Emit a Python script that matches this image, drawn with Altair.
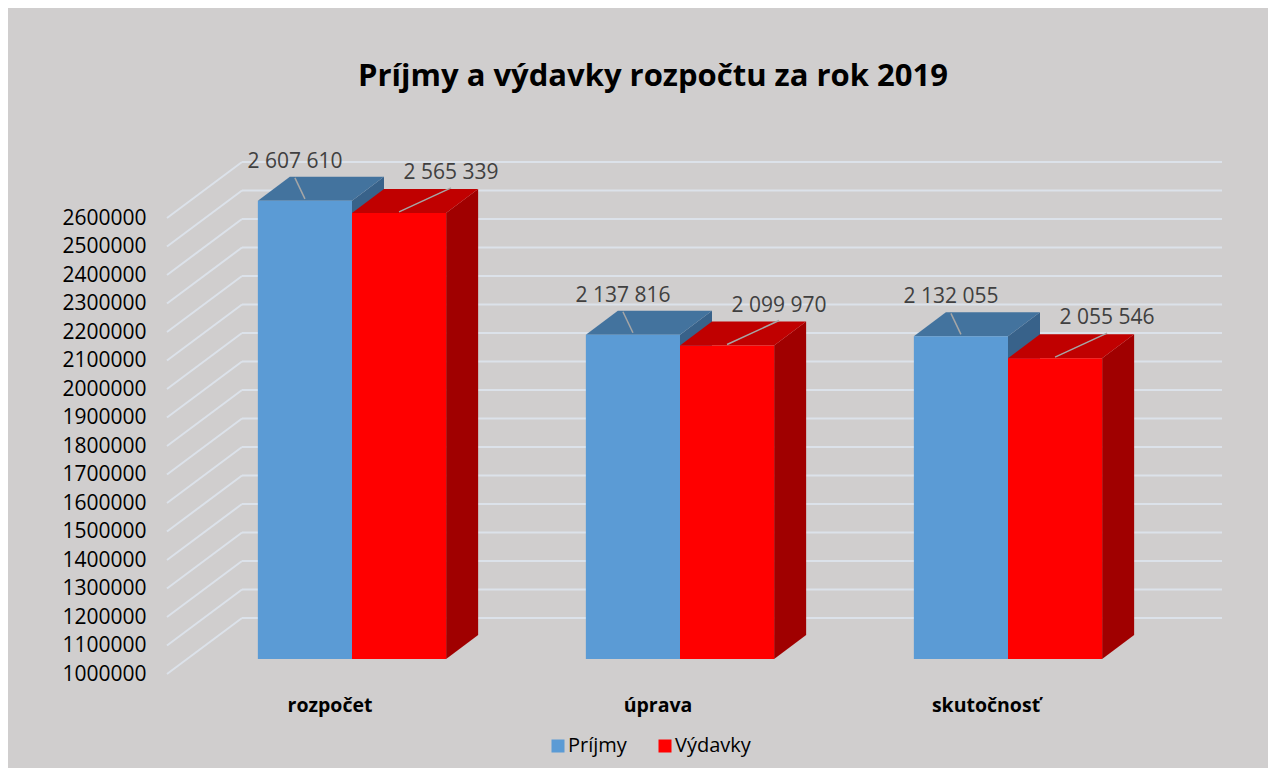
import altair as alt
import pandas as pd

# ---------------- data ----------------
TITLE = "Príjmy a výdavky rozpočtu za rok 2019"
CATEGORIES = ["rozpočet", "úprava", "skutočnosť"]
SERIES = ["Príjmy", "Výdavky"]
PRIJMY = [2607610, 2137816, 2132055]
VYDAVKY = [2565339, 2099970, 2055546]
Y_TICKS = [1000000, 1100000, 1200000, 1300000, 1400000, 1500000, 1600000,
           1700000, 1800000, 1900000, 2000000, 2100000, 2200000, 2300000,
           2400000, 2500000, 2600000]

# ---------------- layout / style ----------------
W, H = 984, 456
Y_MIN, Y_MAX = 1000000, 2600000
X_MIN, X_MAX = -0.5, 2.5
BAR_W = 0.287                       # bar width in x units
DEPTH_X_PX, DEPTH_Y_PX = 32, 24     # 3D depth of the bars (pixels)
DXU = DEPTH_X_PX * (X_MAX - X_MIN) / W
DYU = DEPTH_Y_PX * (Y_MAX - Y_MIN) / H

BG = "#D0CECE"
GRID = "#DCE2EA"
LEADER = "#A6A6A6"
FONT = "Open Sans"
FRONT = {"Príjmy": "#5B9BD5", "Výdavky": "#FF0000"}
TOP = {"Príjmy": "#43739E", "Výdavky": "#C00000"}
SIDE = {"Príjmy": "#38628A", "Výdavky": "#A00000"}


def fmt(v):
    return f"{v:,}".replace(",", " ")


bars, tops, sides = [], [], []
for i, cat in enumerate(CATEGORIES):
    for s, (name, vals) in enumerate(zip(SERIES, [PRIJMY, VYDAVKY])):
        v = vals[i]
        x0 = i - BAR_W + s * BAR_W
        x1 = x0 + BAR_W
        key = f"{cat}-{name}"
        bars.append(dict(cat=cat, i=i, series=name, value=v, x0=x0, x1=x1,
                         xc=(x0 + x1) / 2, base=Y_MIN, label=fmt(v)))
        for px, py, py2 in [(x0, v, v), (x0 + DXU, v + DYU, v),
                            (x1, v + DYU, v), (x1 + DXU, v + DYU, v + DYU)]:
            tops.append(dict(id=key, series=name, px=px, py=py, py2=py2))
        for px, py, py2 in [(x1, v, Y_MIN), (x1 + DXU, v + DYU, Y_MIN + DYU)]:
            sides.append(dict(id=key, series=name, px=px, py=py, py2=py2))

bars_df = pd.DataFrame(bars)
tops_df = pd.DataFrame(tops)
sides_df = pd.DataFrame(sides)
ticks_df = pd.DataFrame({"v": Y_TICKS})
cats_df = pd.DataFrame({"cat": CATEGORIES, "i": list(range(len(CATEGORIES)))})
title_df = pd.DataFrame({"t": [TITLE]})

xscale = alt.Scale(domain=[X_MIN, X_MAX], zero=False, nice=False)
yscale = alt.Scale(domain=[Y_MIN, Y_MAX], zero=False, nice=False)
yaxis = alt.Axis(values=Y_TICKS, format="d", title=None, domain=False, ticks=False,
                 grid=False, labelFont=FONT, labelFontSize=21, labelColor="#000000",
                 labelPadding=42, labelOffset=15)


def X(f):
    return alt.X(f, type="quantitative", scale=xscale, axis=None)


def Y(f):
    return alt.Y(f, type="quantitative", scale=yscale, axis=yaxis, stack=None)


layers = []

# back-wall grid lines and left-wall diagonals
layers.append(alt.Chart(ticks_df).mark_rule(color=GRID, strokeWidth=2, yOffset=-41)
              .encode(x=alt.value(54), x2=alt.value(1034), y=Y("v")))
layers.append(alt.Chart(ticks_df).mark_rule(color=GRID, strokeWidth=2, yOffset=15, y2Offset=-41)
              .encode(x=alt.value(-21), x2=alt.value(54), y=Y("v"), y2="v"))

color_scale = alt.Scale(domain=SERIES, range=[FRONT[s] for s in SERIES])
legend = alt.Legend(orient="none", legendX=360, legendY=533, direction="horizontal",
                    title=None, symbolType="square", symbolSize=169, symbolStrokeWidth=0,
                    labelFont=FONT, labelFontSize=20, labelColor="#000000",
                    labelOffset=0, columnPadding=28, padding=0)

for name in SERIES:
    layers.append(alt.Chart(sides_df[sides_df.series == name]).mark_area(color=SIDE[name])
                  .encode(x=X("px"), y=Y("py"), y2="py2", detail="id"))
    layers.append(alt.Chart(tops_df[tops_df.series == name]).mark_area(color=TOP[name])
                  .encode(x=X("px"), y=Y("py"), y2="py2", detail="id"))
    layers.append(alt.Chart(bars_df[bars_df.series == name]).mark_rect()
                  .encode(x=X("x0"), x2="x1", y=Y("value"), y2="base",
                          color=alt.Color("series:N", scale=color_scale, legend=legend)))

# leader lines and data labels
P = bars_df[bars_df.series == "Príjmy"]
V = bars_df[bars_df.series == "Výdavky"]
layers.append(alt.Chart(P).mark_rule(color=LEADER, strokeWidth=1.5, xOffset=-10, yOffset=-23,
                                     x2Offset=0, y2Offset=-2)
              .encode(x=X("xc"), x2="xc", y=Y("value"), y2="value"))
layers.append(alt.Chart(V).mark_rule(color=LEADER, strokeWidth=1.5, xOffset=0, yOffset=-1,
                                     x2Offset=52, y2Offset=-25)
              .encode(x=X("xc"), x2="xc", y=Y("value"), y2="value"))
layers.append(alt.Chart(P).mark_text(font=FONT, fontSize=21, color="#404040", dx=-10, dy=-33,
                                     align="center", baseline="alphabetic")
              .encode(x=X("xc"), y=Y("value"), text="label"))
layers.append(alt.Chart(V).mark_text(font=FONT, fontSize=21, color="#404040", dx=52, dy=-34,
                                     align="center", baseline="alphabetic")
              .encode(x=X("xc"), y=Y("value"), text="label"))

# category labels
layers.append(alt.Chart(cats_df).mark_text(font=FONT, fontSize=19.5, fontWeight="bold",
                                           color="#000000", dx=-22, align="center",
                                           baseline="middle")
              .encode(x=X("i"), y=alt.value(H + 47), text="cat"))

# title
layers.append(alt.Chart(title_df).mark_text(font=FONT, fontSize=31, fontWeight="bold",
                                            color="#000000", align="center",
                                            baseline="alphabetic")
              .encode(x=alt.value(465), y=alt.value(-117), text="t"))

chart = (alt.layer(*layers)
         .properties(width=W, height=H, autosize="none", background=BG,
                     padding={"left": 180, "top": 195, "right": 96, "bottom": 109})
         .configure_view(stroke=None))

chart.save("out.html", embed_options={"renderer": "svg", "actions": False})
